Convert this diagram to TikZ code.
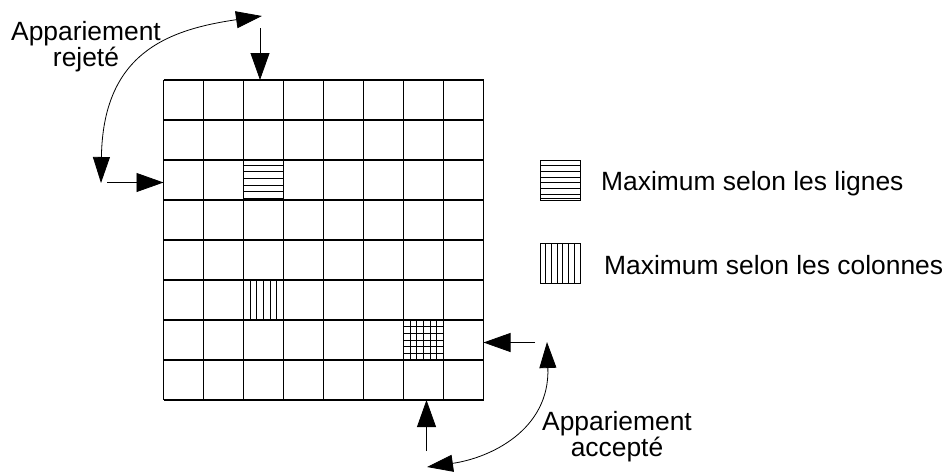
\documentclass[tikz,border=0pt]{standalone}
\usepackage{fontspec}
\setmainfont{Liberation Sans}
\usetikzlibrary{arrows.meta}
\begin{document}
\begin{tikzpicture}[x=1pt,y=-1pt,
  gridline/.style={line width=1.1pt},
  hatchline/.style={line width=0.8pt},
  arr/.style={line width=0.8pt,-{Triangle[length=27pt,width=19pt]}},
  darr/.style={line width=0.8pt,{Triangle[length=26pt,width=17pt]}-{Triangle[length=26pt,width=17pt]}},
  lbl/.style={font=\fontsize{26.4}{26}\selectfont, inner sep=0pt, anchor=base},
  legtext/.style={font=\fontsize{26.4}{26}\selectfont, inner sep=0pt, anchor=base west},
  legbox/.style={draw, line width=1pt, minimum size=40pt, inner sep=0pt, outer sep=0pt}]
\useasboundingbox (0,0) rectangle (947,471);
% grid
\node[minimum size=320pt, inner sep=0pt, outer sep=0pt] (grid) at (323.5,240) {};
\foreach \i in {0,...,8} {
  \draw[gridline] (163.5+40*\i,80) -- (163.5+40*\i,400);
  \draw[gridline] (163.5,80+40*\i) -- (483.5,80+40*\i);
}
% row maximum cell
\foreach \k in {1,...,6}
  \draw[hatchline] (243.5,158.5+6.67*\k) -- (283.5,158.5+6.67*\k);
% column maximum cell
\foreach \k in {1,...,5}
  \draw[hatchline] (243.5+6.67*\k,280) -- (243.5+6.67*\k,320);
% both
\foreach \k in {1,...,5} {
  \draw[hatchline] (403.5+6.67*\k,320) -- (403.5+6.67*\k,360);
  \draw[hatchline] (403.5,320+6.67*\k) -- (443.5,320+6.67*\k);
}
% straight arrows
\coordinate (topS) at (260,28);
\coordinate (leftS) at (107,182.5);
\coordinate (rightS) at (535,342.5);
\coordinate (botS) at (426.5,451);
\draw[arr] (topS) -- (topS |- grid.north);
\draw[arr] (leftS) -- (leftS -| grid.west);
\draw[arr] (rightS) -- (rightS -| grid.east);
\draw[arr] (botS) -- (botS |- grid.south);
% curved double arrows
\coordinate (rjA) at (101,183);
\coordinate (rjB) at (262,16);
\draw[darr] (rjA) .. controls (103,55) and (165,30) .. (rjB);
\coordinate (acA) at (547,342);
\coordinate (acB) at (427,467);
\draw[darr] (acA) .. controls (550,430) and (490,458) .. (acB);
% labels
\node[lbl] (rej1) at (86,40.7) {Appariement};
\node[lbl] (rej2) at (86,66.7) {rejeté};
\node[lbl] (acc1) at (617,430) {Appariement};
\node[lbl] (acc2) at (617,456) {accepté};
% legend
\node[legbox] (legrow) at (560,180) {};
\foreach \k in {1,...,6}
  \draw[hatchline] (540,160+5.714*\k) -- (580,160+5.714*\k);
\draw[hatchline] (540,198.7) -- (580,198.7);
\node[legtext] (legrowt) at (601,190.5) {Maximum selon les lignes};
\node[legtext] (legcolt) at (604,274.5) {Maximum selon les colonnes};
\node[legbox] (legcol) at (560,263) {};
\foreach \k in {1,...,6}
  \draw[hatchline] (540+5.714*\k,243) -- (540+5.714*\k,283);
\end{tikzpicture}
\end{document}
